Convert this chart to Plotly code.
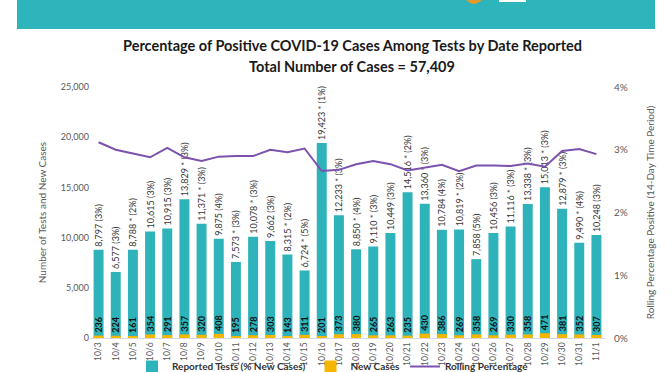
import plotly.graph_objects as go

dates = ["10/3","10/4","10/5","10/6","10/7","10/8","10/9","10/10","10/11","10/12",
         "10/13","10/14","10/15","10/16","10/17","10/18","10/19","10/20","10/21","10/22",
         "10/23","10/24","10/25","10/26","10/27","10/28","10/29","10/30","10/31","11/1"]
tests = [8797, 6577, 8788, 10615, 10915, 13829, 11371, 9875, 7573, 10078,
         9662, 8315, 6724, 19423, 12233, 8850, 9110, 10449, 14516, 13360,
         10784, 10819, 7858, 10456, 11116, 13338, 15013, 12879, 9490, 10248]
starred = [0,0,1,0,0,1,1,0,1,1,
           0,1,1,1,1,1,1,0,1,1,
           0,1,0,0,1,1,1,1,1,0]
pct_new = [3,3,2,3,3,3,3,4,3,3,
           3,2,5,1,3,4,3,3,2,3,
           4,2,5,3,3,3,3,3,4,3]
new_cases = [236, 224, 161, 354, 291, 357, 320, 408, 195, 278,
             303, 143, 311, 201, 373, 380, 265, 263, 235, 430,
             386, 269, 358, 269, 330, 358, 471, 381, 352, 307]
rolling = [3.12, 3.00, 2.94, 2.88, 3.03, 2.88, 2.82, 2.89, 2.90, 2.90,
           3.00, 2.96, 3.02, 2.66, 2.68, 2.77, 2.82, 2.77, 2.67, 2.72,
           2.76, 2.66, 2.75, 2.75, 2.74, 2.78, 2.73, 2.98, 3.01, 2.93]
left_ticks = [0, 5000, 10000, 15000, 20000, 25000]
right_ticks = [0, 1, 2, 3, 4]

TEAL = "#2DB3B9"
ORANGE = "#F6B600"
PURPLE = "#7B52AE"
FONT = "Lato"

test_labels = [f"{t:,}{' *' if s else ''} ({p}%)" for t, s, p in zip(tests, starred, pct_new)]

fig = go.Figure()
fig.add_trace(go.Bar(
    x=dates, y=tests, name="Reported Tests (% New Cases)",
    marker=dict(color=TEAL, line=dict(width=0)), width=0.58,
    text=test_labels, textposition="outside", textangle=-90, constraintext="none",
    textfont=dict(family=FONT, size=9, color="#333333"),
    cliponaxis=False,
))
fig.add_trace(go.Bar(
    x=dates, y=new_cases, name="New Cases",
    marker=dict(color=ORANGE, line=dict(width=0)), width=0.58,
    text=[str(v) for v in new_cases], textposition="outside", textangle=-90, constraintext="none",
    textfont=dict(family=FONT, size=9, color="#111111", weight="bold"),
    cliponaxis=False,
))
fig.add_trace(go.Scatter(
    x=dates, y=rolling, name="Rolling Percentage", yaxis="y2",
    mode="lines", line=dict(color=PURPLE, width=2),
))

x0 = 90; x1 = 605; y0 = 338; y1 = 87
pw = x1 - x0; ph = y0 - y1
def px(v): return (v - x0) / pw
def py(v): return (y0 - v) / ph

shapes = [
    dict(type="rect", xref="paper", yref="paper", x0=px(17), x1=px(655), y0=py(29), y1=py(-5),
         fillcolor="#2EB4BB", line=dict(width=0), layer="below"),
    dict(type="circle", xref="paper", yref="paper", x0=px(465), x1=px(483), y0=py(4), y1=py(-14),
         fillcolor="#E39A2B", line=dict(width=0)),
    dict(type="rect", xref="paper", yref="paper", x0=px(499), x1=px(526), y0=py(2), y1=py(-5),
         fillcolor="white", line=dict(width=0)),
]

fig.update_layout(
    width=672, height=372,
    margin=dict(l=x0, r=672 - x1, t=y1, b=372 - y0, autoexpand=False),
    paper_bgcolor="white", plot_bgcolor="white",
    barmode="overlay", bargap=0.4,
    font=dict(family=FONT, color="#595959", size=9),
    showlegend=True,
    legend=dict(orientation="h", xref="container", yref="container",
                x=132 / 672, xanchor="left", y=(372 - 352) / 372, yanchor="top",
                font=dict(family=FONT, size=10, color="#333333", weight="bold"),
                itemwidth=30, tracegroupgap=0, bgcolor="rgba(0,0,0,0)"),
    xaxis=dict(tickangle=-90, showgrid=False, showline=True, linecolor="#D9D9D9",
               linewidth=1, ticks="", tickfont=dict(size=8.5, color="#595959"),
               range=[-0.5, len(dates) - 0.5], automargin=False),
    yaxis=dict(range=[0, 25000], tickvals=left_ticks, tickformat=",d", showgrid=False,
               zeroline=False, showline=False, ticks="", automargin=False,
               tickfont=dict(size=9, color="#595959"),
               title=dict(text="Number of Tests and New Cases",
                          font=dict(size=10, color="#595959"), standoff=12)),
    yaxis2=dict(range=[0, 4], tickvals=right_ticks, ticktext=[f"{v}%" for v in right_ticks],
                overlaying="y", side="right", showgrid=False, zeroline=False, showline=False,
                automargin=False, tickfont=dict(size=10, color="#595959"),
                ticklabelstandoff=8,
                title=dict(text="Rolling Percentage Positive (14-Day Time Period)",
                           font=dict(size=10, color="#595959"), standoff=20)),
    shapes=shapes,
    annotations=[
        dict(text="<b>Percentage of Positive COVID-19 Cases Among Tests by Date Reported</b>",
             xref="paper", yref="paper", x=px(352), y=py(46), showarrow=False,
             xanchor="center", yanchor="middle",
             font=dict(family=FONT, size=14.5, color="#1a1a1a")),
        dict(text="<b>Total Number of Cases = 57,409</b>",
             xref="paper", yref="paper", x=px(352), y=py(66), showarrow=False,
             xanchor="center", yanchor="middle",
             font=dict(family=FONT, size=14.5, color="#1a1a1a")),
    ],
)

fig.write_html("out.html", config={"displayModeBar": False},
               post_script="document.body.style.margin='0';")
